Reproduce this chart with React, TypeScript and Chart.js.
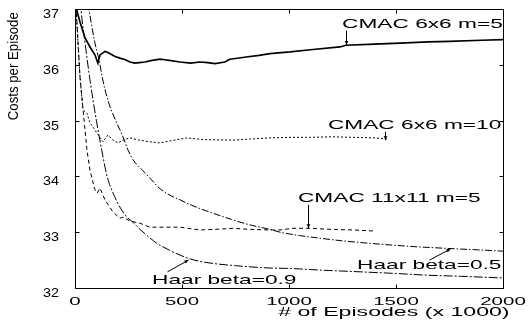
import React, { useEffect, useRef } from "react";
import { Chart, registerables } from "chart.js";

Chart.register(...registerables);

// ---------- data (x in thousands of episodes, y = costs per episode) ----------
const cmac6m5X = [0, 10, 23, 47, 70, 93, 107, 117, 126, 140, 154, 187, 210, 235, 257, 280, 300, 327, 360, 397, 420, 440, 491, 540, 584, 620, 654, 700, 724, 800, 860, 911, 1005, 1100, 1238, 1266, 1400, 1519, 1650, 1750, 1900, 2000];
const cmac6m5Y = [37.6, 36.95, 36.77, 36.48, 36.32, 36.18, 36.03, 36.18, 36.2, 36.24, 36.22, 36.15, 36.12, 36.09, 36.05, 36.03, 36.04, 36.05, 36.08, 36.1, 36.09, 36.08, 36.05, 36.03, 36.05, 36.04, 36.02, 36.05, 36.1, 36.14, 36.17, 36.2, 36.23, 36.27, 36.32, 36.35, 36.37, 36.39, 36.41, 36.42, 36.44, 36.45];

const cmac6m10X = [0, 5, 15, 25, 37, 56, 70, 90, 107, 131, 154, 175, 201, 230, 257, 300, 350, 397, 450, 523, 600, 738, 820, 911, 1000, 1100, 1200, 1300, 1400, 1458];
const cmac6m10Y = [37.4, 37.0, 36.3, 35.7, 35.2, 35.13, 34.96, 34.85, 34.75, 34.62, 34.74, 34.66, 34.6, 34.66, 34.69, 34.65, 34.62, 34.6, 34.64, 34.69, 34.66, 34.65, 34.67, 34.69, 34.7, 34.7, 34.71, 34.7, 34.69, 34.67];

const cmac11m5X = [0, 10, 23, 40, 56, 70, 93, 103, 117, 140, 178, 210, 224, 257, 304, 350, 411, 491, 584, 650, 738, 820, 911, 958, 1019, 1089, 1200, 1300, 1402];
const cmac11m5Y = [37.3, 36.7, 35.8, 35.1, 34.47, 34.11, 33.76, 33.7, 33.79, 33.58, 33.36, 33.25, 33.27, 33.2, 33.16, 33.09, 33.09, 33.09, 33.04, 33.05, 33.07, 33.05, 33.04, 33.04, 33.07, 33.07, 33.05, 33.04, 33.02];

const haar05X = [0, 40, 65, 90, 117, 126, 155, 190, 220, 248, 271, 318, 350, 397, 450, 491, 523, 580, 645, 730, 818, 911, 958, 1050, 1150, 1238, 1379, 1550, 1738, 1900, 2000];
const haar05Y = [40, 37.6, 37.0, 36.45, 36.0, 35.8, 35.35, 35.0, 34.75, 34.47, 34.3, 34.1, 33.97, 33.78, 33.65, 33.58, 33.52, 33.43, 33.34, 33.23, 33.13, 33.05, 33.0, 32.94, 32.89, 32.85, 32.8, 32.75, 32.71, 32.68, 32.66];

const haar09X = [0, 28, 50, 70, 100, 125, 150, 178, 210, 243, 270, 304, 340, 383, 440, 523, 580, 645, 750, 897, 1005, 1150, 1332, 1500, 1645, 1800, 2000];
const haar09Y = [38.5, 37.0, 36.3, 35.73, 35.0, 34.47, 34.0, 33.7, 33.45, 33.27, 33.18, 33.05, 32.93, 32.8, 32.68, 32.54, 32.48, 32.44, 32.4, 32.36, 32.35, 32.32, 32.29, 32.26, 32.23, 32.21, 32.18];

const xTickValues = [0, 500, 1000, 1500, 2000];
const yTickValues = [32, 33, 34, 35, 36, 37];

const xTitle = "# of Episodes (x 1000)";
const yTitle = "Costs per Episode";

// annotation labels: text, text anchor (data), arrow start & tip (data)
const annoTexts = ["CMAC 6x6 m=5", "CMAC 6x6 m=10", "CMAC 11x11 m=5", "Haar beta=0.5", "Haar beta=0.9"];
const annoTextX = [1248, 1182, 1042, 1318, 360];
const annoTextY = [36.66, 34.85, 33.54, 32.34, 32.07];
const annoFromX = [1266, 1449, 1089, 1654, 430];
const annoFromY = [36.61, 34.8, 33.49, 32.5, 32.29];
const annoToX = [1266, 1449, 1089, 1752, 528];
const annoToY = [36.355, 34.65, 33.07, 32.7, 32.5];

const FONT = '"Liberation Sans", Arial, Helvetica, sans-serif';

function zip(xs: number[], ys: number[]) {
  return xs.map((x, i) => ({ x, y: ys[i] }));
}

function drawStretched(
  ctx: CanvasRenderingContext2D,
  text: string,
  x: number,
  y: number,
  size: number,
  sx: number,
  align: "left" | "center" | "right"
) {
  ctx.save();
  ctx.font = `${size}px ${FONT}`;
  ctx.textBaseline = "alphabetic";
  ctx.textAlign = "left";
  const w = ctx.measureText(text).width * sx;
  const left = align === "left" ? x : align === "center" ? x - w / 2 : x - w;
  ctx.translate(left, y);
  ctx.scale(sx, 1);
  ctx.fillStyle = "#000";
  ctx.fillText(text, 0, 0);
  ctx.restore();
}

const framePlugin = {
  id: "frame",
  afterDraw(chart: any) {
    const ctx: CanvasRenderingContext2D = chart.ctx;
    const { left, right, top, bottom } = chart.chartArea;
    const xs = chart.scales.x;
    const ys = chart.scales.y;
    ctx.save();
    ctx.strokeStyle = "#000";
    ctx.lineWidth = 1;
    const L = Math.round(left) + 0.5;
    const R = Math.round(right) + 0.5;
    const T = Math.round(top) + 0.5;
    const B = Math.round(bottom) + 0.5;
    ctx.beginPath();
    ctx.rect(L, T, R - L, B - T);
    ctx.stroke();
    const tl = 4;
    ctx.beginPath();
    xTickValues.forEach((v) => {
      const px = Math.round(xs.getPixelForValue(v)) + 0.5;
      ctx.moveTo(px, B);
      ctx.lineTo(px, B - tl);
      ctx.moveTo(px, T);
      ctx.lineTo(px, T + tl);
    });
    yTickValues.forEach((v) => {
      const py = Math.round(ys.getPixelForValue(v)) + 0.5;
      ctx.moveTo(L, py);
      ctx.lineTo(L + tl, py);
      ctx.moveTo(R, py);
      ctx.lineTo(R - tl, py);
    });
    ctx.stroke();

    // tick labels
    xTickValues.forEach((v) => {
      const px = xs.getPixelForValue(v);
      drawStretched(ctx, String(v), px, bottom + 17, 11.5, 1.78, "center");
    });
    yTickValues.forEach((v) => {
      const py = ys.getPixelForValue(v);
      drawStretched(ctx, String(v), left - 16, py + 9, 12.2, 1.18, "right");
    });

    // axis titles
    drawStretched(ctx, xTitle, left + (right - left) * 0.745, bottom + 28, 12.5, 1.85, "center");
    ctx.save();
    ctx.translate(left - 57, top + (bottom - top) * 0.205);
    ctx.rotate(-Math.PI / 2);
    ctx.font = `14px ${FONT}`;
    const yw = ctx.measureText(yTitle).width;
    drawStretched(ctx, yTitle, 0, 0, 14, 108 / yw, "center");
    ctx.restore();

    // annotations
    ctx.strokeStyle = "#000";
    ctx.fillStyle = "#000";
    ctx.lineWidth = 1;
    annoTexts.forEach((t, i) => {
      drawStretched(ctx, t, xs.getPixelForValue(annoTextX[i]), ys.getPixelForValue(annoTextY[i]), 13.5, 1.68, "left");
      const x1 = xs.getPixelForValue(annoFromX[i]);
      const y1 = ys.getPixelForValue(annoFromY[i]);
      const x2 = xs.getPixelForValue(annoToX[i]);
      const y2 = ys.getPixelForValue(annoToY[i]);
      const ax = Math.round(x1) + 0.5;
      const bx = Math.round(x2) + 0.5;
      ctx.beginPath();
      ctx.moveTo(ax, y1);
      ctx.lineTo(bx, y2);
      ctx.stroke();
      const ang = Math.atan2(y2 - y1, bx - ax);
      const hl = 4, hw = 1.8;
      ctx.beginPath();
      ctx.moveTo(bx, y2);
      ctx.lineTo(bx - hl * Math.cos(ang) + hw * Math.sin(ang), y2 - hl * Math.sin(ang) - hw * Math.cos(ang));
      ctx.lineTo(bx - hl * Math.cos(ang) - hw * Math.sin(ang), y2 - hl * Math.sin(ang) + hw * Math.cos(ang));
      ctx.closePath();
      ctx.fill();
    });
    ctx.restore();
  },
};

export default function App() {
  const ref = useRef<HTMLCanvasElement | null>(null);
  useEffect(() => {
    if (!ref.current) return;
    const common = { pointRadius: 0, borderColor: "#000", fill: false, clip: 0 as any };
    const chart = new Chart(ref.current, {
      type: "line",
      data: {
        datasets: [
          { ...common, label: "CMAC 6x6 m=5", data: zip(cmac6m5X, cmac6m5Y), borderWidth: 1.7, tension: 0 },
          { ...common, label: "CMAC 6x6 m=10", data: zip(cmac6m10X, cmac6m10Y), borderWidth: 1, borderDash: [2, 2], tension: 0 },
          { ...common, label: "CMAC 11x11 m=5", data: zip(cmac11m5X, cmac11m5Y), borderWidth: 1, borderDash: [4, 3], tension: 0 },
          { ...common, label: "Haar beta=0.5", data: zip(haar05X, haar05Y), borderWidth: 1, borderDash: [7, 2, 1.5, 2], cubicInterpolationMode: "monotone" },
          { ...common, label: "Haar beta=0.9", data: zip(haar09X, haar09Y), borderWidth: 1, borderDash: [9, 2, 2, 2], cubicInterpolationMode: "monotone" },
        ] as any,
      },
      options: {
        animation: false,
        responsive: false,
        maintainAspectRatio: false,
        devicePixelRatio: 1,
        layout: { padding: { left: 75, right: 28, top: 9, bottom: 34 } },
        plugins: { legend: { display: false }, tooltip: { enabled: false } },
        scales: {
          x: { type: "linear", min: 0, max: 2000, display: false },
          y: { type: "linear", min: 32, max: 37, display: false },
        },
      },
      plugins: [framePlugin],
    });
    return () => chart.destroy();
  }, []);
  return (
    <div style={{ position: "absolute", left: 0, top: 0, width: 531, height: 322, background: "#fff" }}>
      <canvas ref={ref} width={531} height={322} style={{ display: "block" }} />
    </div>
  );
}
